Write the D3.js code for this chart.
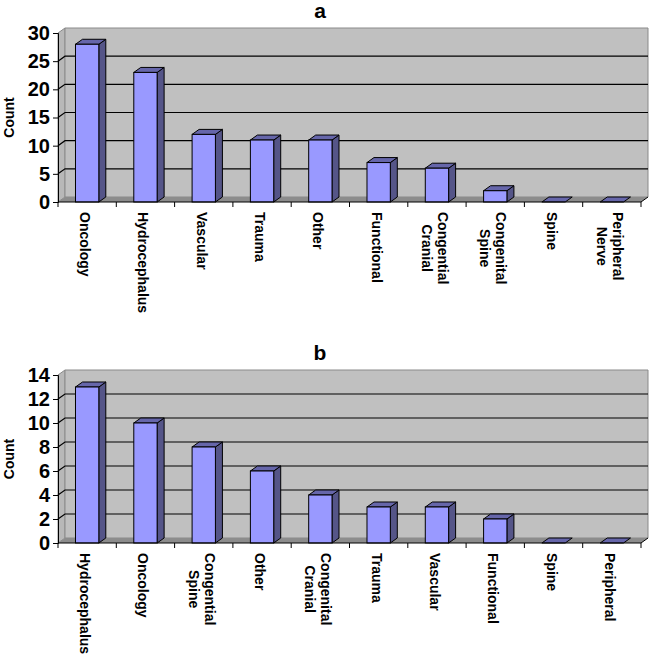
<!DOCTYPE html>
<html lang="en">
<head>
    <meta charset="UTF-8">
    <title>Case mix chart</title>
    <script src="https://cdn.jsdelivr.net/npm/d3@7"></script>
    <style>
        body { margin: 0; background: #fff; }
        text { font-family: "Liberation Sans", Arial, sans-serif; font-weight: bold; fill: #000; }
    </style>
</head>
<body>
<div id="container"></div>
<script>
    // Panel a
    const categoriesA = ["Oncology", "Hydrocephalus", "Vascular", "Trauma", "Other", "Functional",
        "Congential\nCranial", "Congenital\nSpine", "Spine", "Peripheral\nNerve"];
    const countsA = [28, 23, 12, 11, 11, 7, 6, 2, 0, 0];
    const ticksA = [0, 5, 10, 15, 20, 25, 30];

    // Panel b
    const categoriesB = ["Hydrocephalus", "Oncology", "Congential\nSpine", "Other", "Congenital\nCranial",
        "Trauma", "Vascular", "Functional", "Spine", "Peripheral"];
    const countsB = [13, 10, 8, 6, 4, 3, 3, 2, 0, 0];
    const ticksB = [0, 2, 4, 6, 8, 10, 12, 14];

    const width = 649, height = 658;
    const svg = d3.select("#container")
        .append("svg")
        .attr("width", width)
        .attr("height", height);

    // depth offset of the fake 3d
    const dx = 7, dy = -5;

    function drawPanel(title, cats, vals, ticks, top, bottom) {
        const left = 58, right = 641;
        const g = svg.append("g");

        const x = d3.scaleBand().domain(d3.range(cats.length)).range([left, right]);
        const y = d3.scaleLinear().domain([0, d3.max(ticks)]).range([bottom, top]);

        // walls and floor
        g.append("polygon")
            .attr("points", [[left, top], [left + dx, top + dy], [left + dx, bottom + dy], [left, bottom]].join(" "))
            .attr("fill", "#b8b8b8").attr("stroke", "#8a8a8a");
        g.append("polygon")
            .attr("points", [[left + dx, top + dy], [right + dx, top + dy], [right + dx, bottom + dy], [left + dx, bottom + dy]].join(" "))
            .attr("fill", "#c0c0c0").attr("stroke", "#8a8a8a");
        g.append("polygon")
            .attr("points", [[left, bottom], [left + dx, bottom + dy], [right + dx, bottom + dy], [right, bottom]].join(" "))
            .attr("fill", "#8c8c8c");

        // gridlines
        const inner = ticks.filter(t => t > 0 && t < d3.max(ticks));
        g.selectAll(".grid").data(inner).enter()
            .append("polyline")
            .attr("points", d => [[left, y(d)], [left + dx, y(d) + dy], [right + dx, y(d) + dy]].join(" "))
            .attr("fill", "none").attr("stroke", "#000").attr("stroke-width", 1.2);

        // bars
        const bw = x.bandwidth() * 0.4;
        const bars = g.selectAll(".bar").data(vals).enter().append("g");
        const x0 = (d, i) => x(i) + (x.bandwidth() - bw) / 2;
        bars.filter(d => d > 0).append("polygon")
            .attr("points", (d, i) => {
                const a = x0(d, i) + bw;
                return [[a, y(d)], [a + dx, y(d) + dy], [a + dx, bottom + dy], [a, bottom]].join(" ");
            })
            .attr("fill", "#555588").attr("stroke", "#000").attr("stroke-width", 1);
        bars.append("polygon")
            .attr("points", (d, i) => {
                const a = x0(d, i);
                return [[a, y(d)], [a + dx, y(d) + dy], [a + bw + dx, y(d) + dy], [a + bw, y(d)]].join(" ");
            })
            .attr("fill", "#6666aa").attr("stroke", "#000").attr("stroke-width", 1);
        bars.filter(d => d > 0).append("rect")
            .attr("x", (d, i) => x0(d, i))
            .attr("y", d => y(d))
            .attr("width", bw)
            .attr("height", d => bottom - y(d))
            .attr("fill", "#9999ff").attr("stroke", "#000").attr("stroke-width", 1);

        // y axis
        const yAxis = g.append("g")
            .attr("transform", `translate(${left},0)`)
            .call(d3.axisLeft(y).tickValues(ticks).tickSize(5).tickPadding(3));
        yAxis.select(".domain").attr("stroke", "#000");
        yAxis.selectAll("text").style("font-size", "20px");

        // x axis line + ticks
        g.append("line")
            .attr("x1", left).attr("x2", right).attr("y1", bottom).attr("y2", bottom)
            .attr("stroke", "#000");
        g.append("line")
            .attr("x1", right).attr("x2", right + dx).attr("y1", bottom).attr("y2", bottom + dy)
            .attr("stroke", "#000");
        g.selectAll(".xtick").data(d3.range(cats.length + 1)).enter()
            .append("line")
            .attr("x1", d => left + d * x.step()).attr("x2", d => left + d * x.step())
            .attr("y1", bottom).attr("y2", bottom + 5)
            .attr("stroke", "#000");

        // category labels, rotated; block top-aligned, lines centred on each other
        const labels = g.selectAll(".cat").data(cats).enter()
            .append("text")
            .attr("transform", (d, i) => `translate(${x(i) + x.bandwidth() / 2 - 2},${bottom + 10}) rotate(90)`)
            .style("font-size", "14px");
        labels.each(function (d) {
            const lines = d.split("\n");
            const t = d3.select(this);
            const spans = t.selectAll("tspan").data(lines).enter()
                .append("tspan")
                .attr("y", (l, j) => (j - (lines.length - 1) / 2) * 16)
                .attr("dominant-baseline", "central")
                .attr("text-anchor", "middle")
                .text(l => l);
            const longest = d3.max(spans.nodes(), n => n.getComputedTextLength());
            spans.attr("x", longest / 2);
        });

        // axis title
        g.append("text")
            .attr("transform", `translate(14,${(top + bottom) / 2}) rotate(-90)`)
            .attr("text-anchor", "middle")
            .style("font-size", "14px")
            .text("Count");

        // panel title
        g.append("text")
            .attr("x", 320)
            .attr("y", top - 15)
            .attr("text-anchor", "middle")
            .style("font-size", "21px")
            .text(title);
    }

    drawPanel("a", categoriesA, countsA, ticksA, 33, 202);
    drawPanel("b", categoriesB, countsB, ticksB, 375, 543);
</script>
</body>
</html>
